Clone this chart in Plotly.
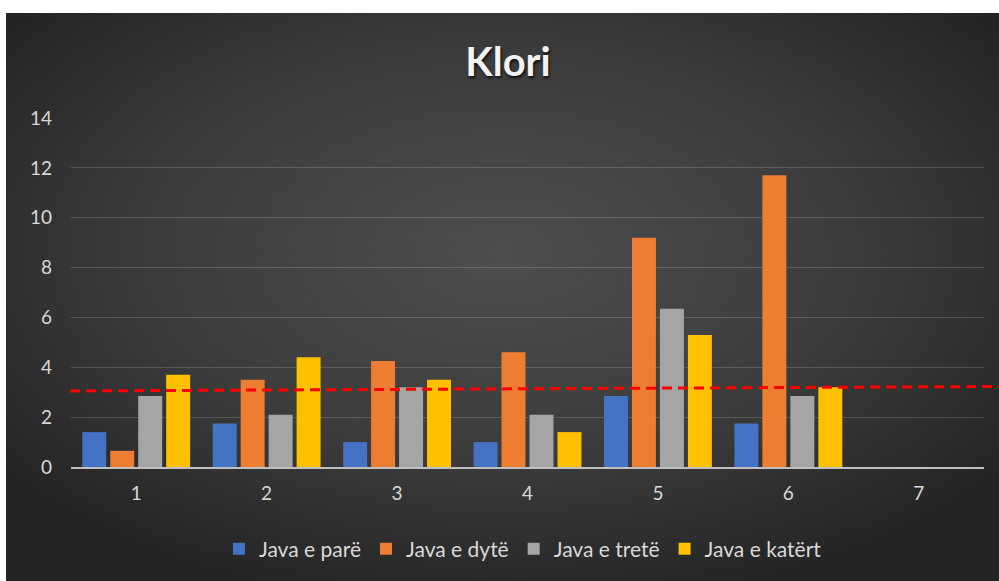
import base64
import plotly.graph_objects as go

# ---- data ----
categories = ["1", "2", "3", "4", "5", "6", "7"]
series_names = ["Java e parë", "Java e dytë", "Java e tretë", "Java e katërt"]
java_1 = [1.4, 1.75, 1.0, 1.0, 2.85, 1.75, None]
java_2 = [0.65, 3.5, 4.25, 4.6, 9.2, 11.7, None]
java_3 = [2.85, 2.1, 3.2, 2.1, 6.35, 2.85, None]
java_4 = [3.7, 4.4, 3.5, 1.4, 5.3, 3.2, None]
threshold_start = 3.05
threshold_end = 3.23
y_ticks = [0, 2, 4, 6, 8, 10, 12, 14]

colors = ["#4472C4", "#ED7D31", "#A5A5A5", "#FFC000"]

W, H = 999, 581
ML, MR, MT, MB = 71, 15, 118, 114
pw = W - ML - MR
ph = H - MT - MB

fig = go.Figure()
for name, vals, col in zip(series_names, [java_1, java_2, java_3, java_4], colors):
    fig.add_trace(go.Bar(x=categories, y=vals, name=name,
                         marker=dict(color=col, line=dict(width=0))))

# radial gradient background (chart area)
svg = (
    '<svg xmlns="http://www.w3.org/2000/svg" width="993" height="568" viewBox="0 0 993 568" '
    'preserveAspectRatio="none">'
    '<defs><radialGradient id="g" cx="50%" cy="42%" r="64%">'
    '<stop offset="0%" stop-color="#4e4e4e"/>'
    '<stop offset="55%" stop-color="#3c3c3c"/>'
    '<stop offset="100%" stop-color="#242424"/>'
    '</radialGradient></defs>'
    '<rect x="0" y="0" width="993" height="568" fill="url(#g)"/></svg>'
)
src = "data:image/svg+xml;base64," + base64.b64encode(svg.encode()).decode()

def fx(px):
    return (px - ML) / pw

def fy(py):
    return (H - MB - py) / ph

fig.add_layout_image(dict(
    source=src, xref="paper", yref="paper",
    x=fx(6), y=fy(13), sizex=fx(999) - fx(6), sizey=fy(13) - fy(581),
    xanchor="left", yanchor="top", sizing="stretch", layer="below",
))

# red dashed reference line
fig.add_shape(type="line", xref="paper", yref="y",
              x0=fx(70), x1=fx(999), y0=threshold_start, y1=threshold_end,
              line=dict(color="#FF0000", width=3, dash="10px,6px"), layer="above")

tick_font = dict(family="Lato, 'Open Sans', sans-serif", size=19, color="#D9D9D9")

fig.update_layout(
    width=W, height=H,
    margin=dict(l=ML, r=MR, t=MT, b=MB),
    paper_bgcolor="white",
    plot_bgcolor="rgba(0,0,0,0)",
    barmode="group",
    bargap=0.142,
    bargroupgap=0.143,
    title=dict(text="<b>Klori</b>", x=508 / W, xref="container", xanchor="center",
               y=1 - 62 / H, yref="container", yanchor="middle",
               font=dict(family="Lato, 'Open Sans', sans-serif", size=40, color="#F2F2F2",
                         shadow="1px 2px 3px rgba(0,0,0,0.85)")),
    xaxis=dict(type="category", categoryorder="array", categoryarray=categories,
               showgrid=False, showline=True, linecolor="#BFBFBF", linewidth=2,
               ticks="", tickfont=tick_font, ticklabelstandoff=8, zeroline=False),
    yaxis=dict(range=[0, 14], tickvals=y_ticks, showgrid=True,
               gridcolor="rgba(255,255,255,0.16)", gridwidth=1,
               showline=False, zeroline=False, ticks="", tickfont=tick_font,
               ticklabelstandoff=18),
    legend=dict(orientation="h", x=0.495, xanchor="center", y=fy(549), yanchor="middle",
                font=dict(family="Lato, 'Open Sans', sans-serif", size=21, color="#D9D9D9"),
                bgcolor="rgba(0,0,0,0)", itemwidth=30, traceorder="normal"),
    showlegend=True,
)

fig.write_html("out.html")
